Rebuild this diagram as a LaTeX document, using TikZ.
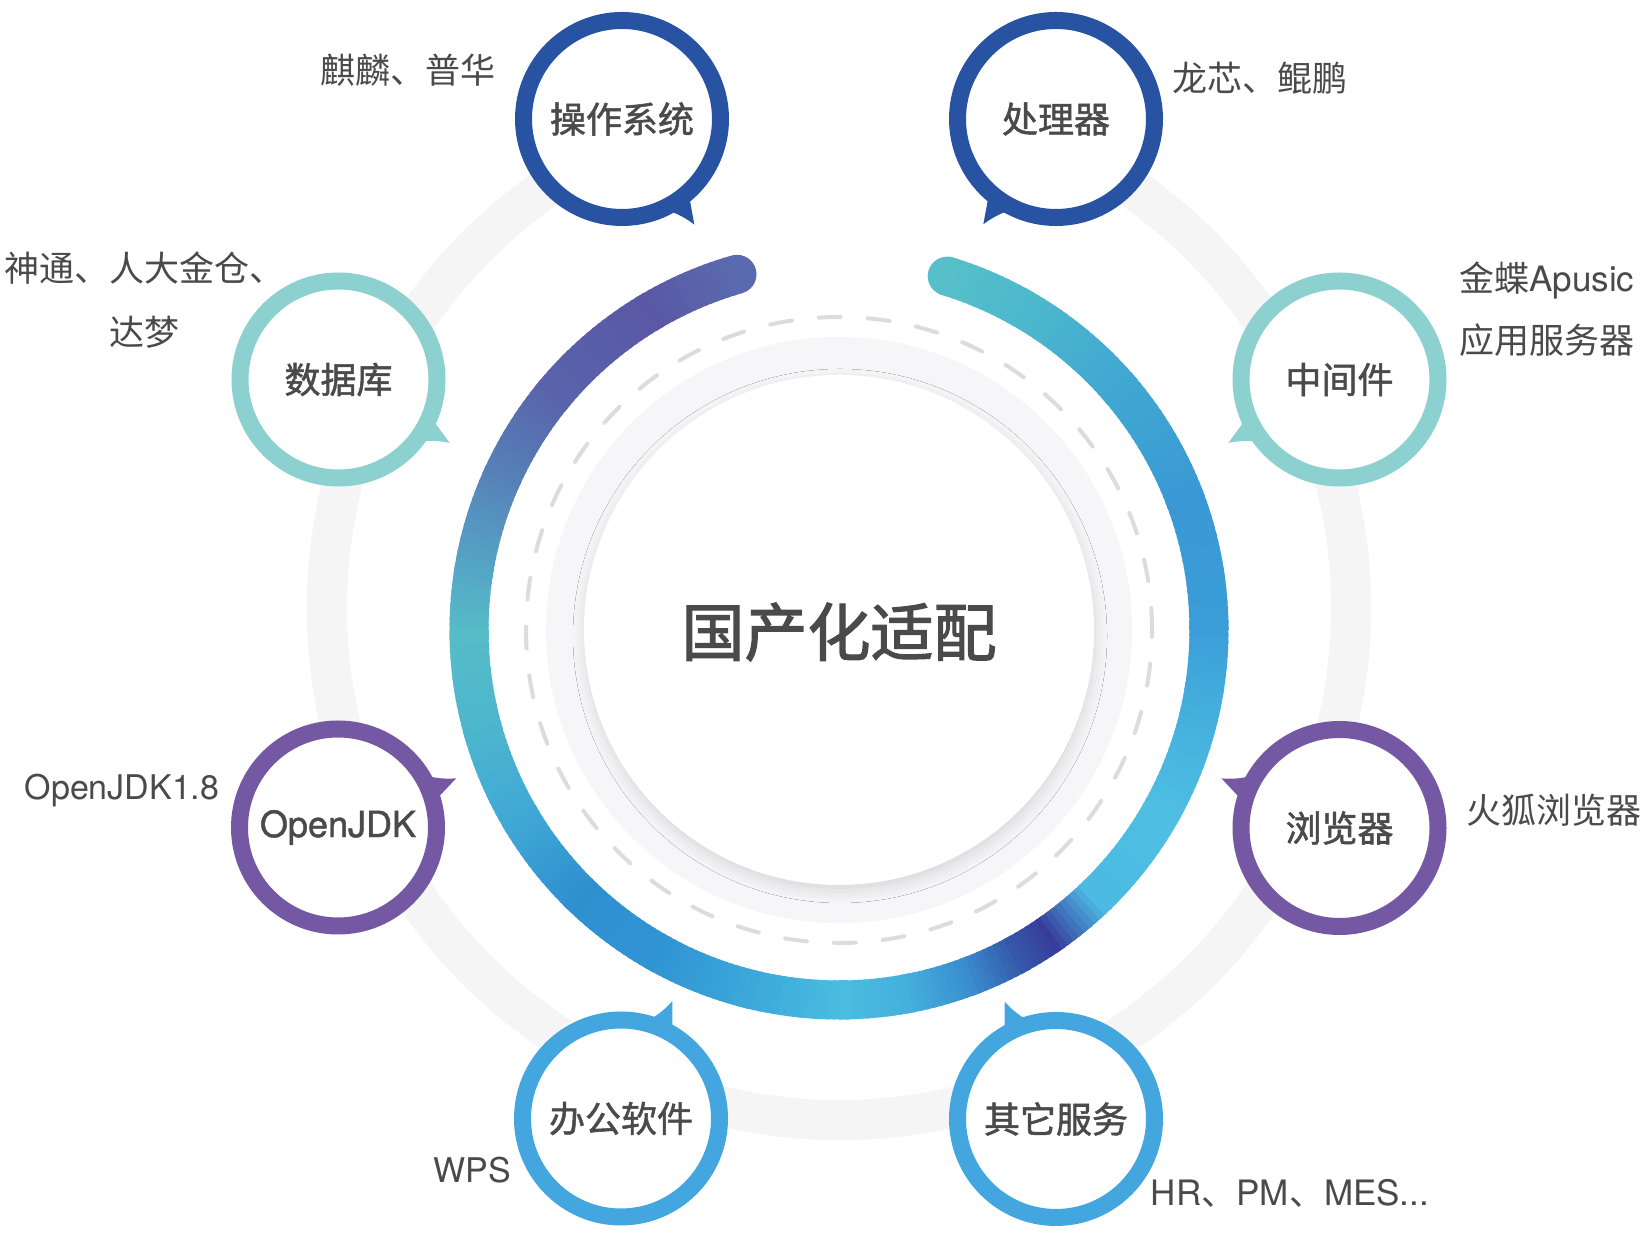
\documentclass[tikz,border=0pt]{standalone}
\usepackage{fontspec}
\setmainfont{Noto Sans CJK SC}
\newfontfamily\lat{TeX Gyre Heros}
\newfontfamily\latmed{TeX Gyre Heros}[FakeBold=1.2]
\newfontfamily\cjkmed{Noto Sans CJK SC}[FakeBold=1.4]
\newfontfamily\cjktitle{Noto Sans CJK SC}[FakeBold=2]
\usetikzlibrary{shadows.blur}
\definecolor{txt}{HTML}{4A4A4A}
\definecolor{cdark}{HTML}{2853A3}
\definecolor{cteal}{HTML}{8DD0D0}
\definecolor{cpurp}{HTML}{7558A3}
\definecolor{cblue}{HTML}{43A6DE}
\definecolor{track}{HTML}{F5F5F6}
\definecolor{innergray}{HTML}{F6F6F8}
\definecolor{dashgray}{HTML}{DCDCDC}
\definecolor{s1}{HTML}{5A6AAE}
\definecolor{s2}{HTML}{5A58A5}
\definecolor{s3}{HTML}{5963AA}
\definecolor{s4}{HTML}{5681B8}
\definecolor{s5}{HTML}{55A6C5}
\definecolor{s6}{HTML}{56BCC8}
\definecolor{s7}{HTML}{4DB6CD}
\definecolor{s8}{HTML}{40A8D5}
\definecolor{s9}{HTML}{2F90D0}
\definecolor{s10}{HTML}{3093D3}
\definecolor{s11}{HTML}{3BA7DA}
\definecolor{s12}{HTML}{4ABDE0}
\definecolor{s13}{HTML}{45B0DD}
\definecolor{s14}{HTML}{3A8CCF}
\definecolor{s15}{HTML}{3558AB}
\definecolor{s16}{HTML}{383D9C}
\definecolor{s17}{HTML}{4CBAE2}
\definecolor{s18}{HTML}{4EBFE2}
\definecolor{s19}{HTML}{42ABDC}
\definecolor{s20}{HTML}{3A9DD8}
\definecolor{s21}{HTML}{3A99D5}
\definecolor{s22}{HTML}{40A7D2}
\definecolor{s23}{HTML}{4DB9CC}
\definecolor{s24}{HTML}{56BFC9}
\newcommand\mybub[7]{%
  \node[bub, draw=#4] (#1) at (#2,#3) {#7};
  \pgfmathsetmacro\tA{#5+8.5*(#6)}%
  \pgfmathsetmacro\tB{#5}%
  \pgfmathsetmacro\tC{#5-2*(#6)}%
  \pgfmathsetmacro\tD{#5-7*(#6)}%
  \pgfmathsetmacro\tE{#5-12*(#6)}%
  \begin{scope}[shift={(#2,#3)}]
  \fill[#4] (\tA:97) -- (\tB:128) .. controls (\tC:115) and (\tD:102) .. (\tE:97) -- cycle;
  \end{scope}
}
\begin{document}
\begin{tikzpicture}[x=0.5pt,y=0.5pt,
  note/.style={text=txt, font=\fontsize{17.5}{20}\selectfont, inner sep=0pt},
  bub/.style={circle, fill=white, line width=8.5pt, minimum size=98.5pt, inner sep=0pt, text=txt, font=\fontsize{18}{20}\selectfont\cjkmed}]
\useasboundingbox (0,0) rectangle (1644,1236);
\fill[white] (0,0) rectangle (1644,1236);
\coordinate (T) at (839,628);
\coordinate (C) at (839,606);
% outer light track
\draw[track, line width=20pt] ([shift={(T)}]113:512) arc[start angle=113, end angle=427, radius=512];
% inner discs
\fill[innergray] (C) circle[radius=293];
\fill[white, blur shadow={shadow xshift=0.5pt, shadow yshift=-3pt, shadow blur radius=6pt, shadow opacity=12}] (C) circle[radius=255];
\draw[dashgray, line width=2pt, dash pattern=on 11pt off 13.5pt, line cap=round] (C) circle[radius=313];
% gradient arc
\fill[s1] ([shift={(C)}]106:370) circle[radius=19.5];
\fill[s24] ([shift={(C)}]433:370) circle[radius=19.5];
\foreach \a/\b/\ca/\cb in {106/120/s1/s2, 120/140/s2/s3, 140/155/s3/s4, 155/170/s4/s5, 170/180/s5/s6, 180/195/s6/s7, 195/210/s7/s8, 210/225/s8/s9, 225/240/s9/s10, 240/255/s10/s11, 255/270/s11/s12, 270/280/s12/s13, 280/290/s13/s14, 290/298/s14/s15, 298/304/s15/s16, 304/313/s16/s17, 313/330/s17/s18, 330/350/s18/s19, 350/360/s19/s20, 360/380/s20/s21, 380/400/s21/s22, 400/420/s22/s23, 420/432/s23/s24}{
  \foreach \x in {\a,...,\b}{
    \pgfmathsetmacro\p{100*(\x-\a)/(\b-\a)}
    \draw[line width=19.5pt, draw=\cb!\p!\ca] ([shift={(C)}]\x:370) arc[start angle=\x, end angle=\x+1.5, radius=370];
  }
}
% title
\node[text=txt, font=\fontsize{31.5}{34}\selectfont\cjktitle, inner sep=0pt] (title) at (839,604) {国产化适配};
% bubbles
\mybub{os}{622}{1117}{cdark}{-55.6}{1}{操作系统}
\mybub{cpu}{1056}{1117}{cdark}{235.4}{-1}{处理器}
\mybub{db}{338.5}{856.5}{cteal}{-29.7}{1}{数据库}
\mybub{mw}{1339.5}{856.5}{cteal}{209.7}{-1}{中间件}
\mybub{jdk}{338}{408.5}{cpurp}{22.6}{-1}{{\latmed OpenJDK}}
\mybub{br}{1339.5}{408}{cpurp}{157.2}{1}{浏览器}
\mybub{off}{621}{117.5}{cblue}{66.4}{-1}{办公软件}
\mybub{oth}{1056}{117}{cblue}{113.6}{1}{其它服务}
% notes
\node[note] (n1) at (408,1166) {麒麟、普华};
\node[note] (n2) at (1260,1158) {龙芯、鲲鹏};
\node[note, align=center, font=\fontsize{17.5}{32}\selectfont] (n3) at (144,936) {神通、人大金仓、\\达梦};
\node[note, align=left, anchor=west, font=\fontsize{17.5}{31}\selectfont] (n4) at (1459,927) {金蝶{\lat Apusic}\\应用服务器};
\node[note, font=\fontsize{17}{20}\selectfont\lat] (n5) at (122,445) {OpenJDK1.8};
\node[note] (n6) at (1554,426) {火狐浏览器};
\node[note, font=\fontsize{17}{20}\selectfont\lat] (n7) at (472,66) {WPS};
\node[note] (n8) at (1290,43) {{\lat HR}、{\lat PM}、{\lat MES...}};
\end{tikzpicture}
\end{document}
